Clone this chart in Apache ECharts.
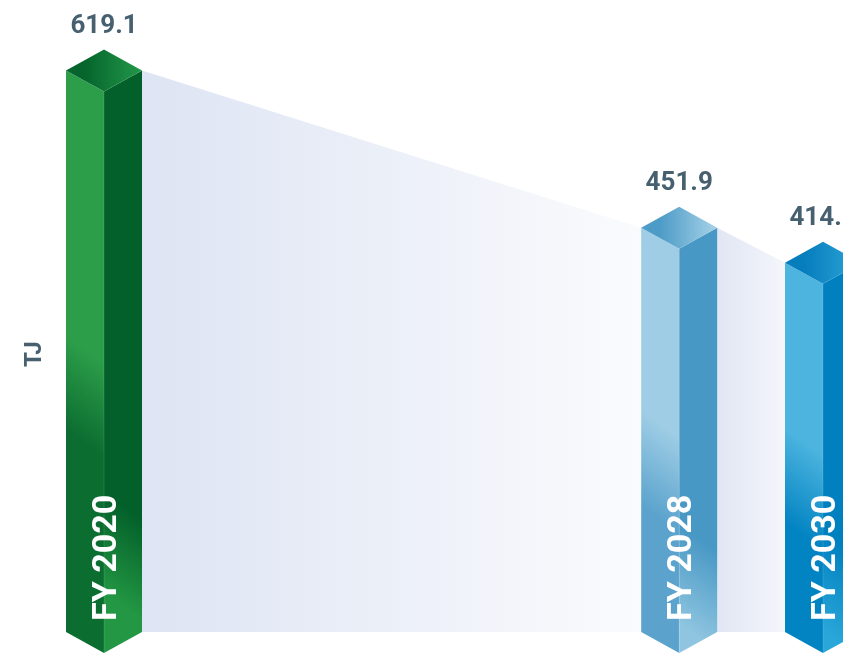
<!DOCTYPE html>
<html>
<head>
<meta charset="utf-8">
<script src="https://cdn.jsdelivr.net/npm/echarts@6/dist/echarts.min.js"></script>
<style>
  html, body { margin: 0; padding: 0; background: #ffffff; }
  #chart { width: 843px; height: 653px; }
</style>
</head>
<body>
<div id="chart"></div>
<script>
// Energy use, TJ
const years = [2020, 2028, 2030];
const categories = ['FY 2020', 'FY 2028', 'FY 2030'];
const values = [619.1, 451.9, 414.8];

// Face colours per bar: [top-left, top-right, left face light, left face dark, right face dark, right face light]
const palettes = [
  ['#05652c', '#23984a', '#2c9e49', '#0c6d31', '#03602a', '#239743'],
  ['#4d9cc7', '#a7d2e8', '#9ecde5', '#5ba3cd', '#4898c5', '#8fc5e0'],
  ['#067dbd', '#2ea6d8', '#4cb4df', '#0384c2', '#0080bf', '#2aa7d9']
];

const HALF_W = 38;   // half width of a prism, px
const DEPTH = 21;    // vertical offset of the diamond / chevron, px
const BASE_LIFT = 21;
const LABEL_COLOR = '#46606f';
const FONT = 'Roboto, "Liberation Sans", sans-serif';

const chart = echarts.init(document.getElementById('chart'), null, { renderer: 'canvas' });

function grad(x0, y0, x1, y1, c0, c1, s0, s1) {
  return new echarts.graphic.LinearGradient(x0, y0, x1, y1, [
    { offset: 0, color: c0 },
    { offset: s0, color: c0 },
    { offset: s1, color: c1 },
    { offset: 1, color: c1 }
  ], true);
}

// Shaded band linking the top of one prism to the next
const ribbonData = [];
for (let i = 0; i < years.length - 1; i++) {
  ribbonData.push([years[i], values[i], years[i + 1], values[i + 1]]);
}
const ribbonColors = [['#dde4f3', '#fafbfd'], ['#e1e6f3', '#f4f6fb']];

function renderRibbon(params, api) {
  const a = api.coord([api.value(0), api.value(1)]);
  const b = api.coord([api.value(2), api.value(3)]);
  const base = api.coord([api.value(0), 0])[1] - BASE_LIFT;
  const x0 = a[0] + HALF_W, x1 = b[0] - HALF_W;
  const cols = ribbonColors[params.dataIndex];
  return {
    type: 'polygon',
    shape: { points: [[x0, a[1]], [x1, b[1]], [x1, base], [x0, base]] },
    style: {
      fill: new echarts.graphic.LinearGradient(x0, 0, x1, 0, [
        { offset: 0, color: cols[0] },
        { offset: 1, color: cols[1] }
      ], true)
    }
  };
}

function renderPrism(params, api) {
  const i = params.dataIndex;
  const p = palettes[i];
  const c = api.coord([api.value(0), api.value(1)]);
  const cx = c[0], y = c[1];
  const base = api.coord([api.value(0), 0])[1] - BASE_LIFT;
  const h = base - y;
  const L = cx - HALF_W, R = cx + HALF_W;
  return {
    type: 'group',
    children: [
      {
        type: 'polygon',
        shape: { points: [[L, y], [cx, y + DEPTH], [cx, base + DEPTH], [L, base]] },
        style: { fill: grad(cx, y + h * 0.52, L - DEPTH, y + h * 0.52 + HALF_W * 2.2, p[2], p[3], 0.0, 0.75) }
      },
      {
        type: 'polygon',
        shape: { points: [[cx, y + DEPTH], [R, y], [R, base], [cx, base + DEPTH]] },
        style: { fill: grad(R, y + h * 0.8, cx - DEPTH, y + h * 0.8 + HALF_W * 2.2, p[4], p[5], 0.0, 0.8) }
      },
      {
        type: 'line',
        shape: { x1: cx, y1: y + DEPTH, x2: cx, y2: base + DEPTH },
        style: { stroke: 'rgba(255,255,255,0.12)', lineWidth: 1 }
      },
      {
        type: 'polygon',
        shape: { points: [[cx, y - DEPTH], [R, y], [cx, y + DEPTH], [L, y]] },
        style: { fill: grad(L, 0, R, 0, p[0], p[1], 0.25, 1) }
      },
      {
        type: 'text',
        x: cx,
        y: y - 44,
        style: {
          text: api.value(1).toFixed(1),
          fill: LABEL_COLOR,
          font: 'bold 26px ' + FONT,
          align: 'center',
          verticalAlign: 'middle'
        }
      },
      {
        type: 'text',
        x: cx + 3.5,
        y: base - 11,
        rotation: Math.PI / 2,
        style: {
          text: categories[i],
          fill: '#ffffff',
          font: 'bold 34px ' + FONT,
          align: 'left',
          verticalAlign: 'middle'
        }
      }
    ]
  };
}

chart.setOption({
  animation: false,
  backgroundColor: '#ffffff',
  grid: { left: 32.1, right: 20, top: 41.4, bottom: 0, containLabel: false },
  xAxis: {
    type: 'value',
    min: 2019,
    max: 2030,
    show: false
  },
  yAxis: {
    type: 'value',
    min: 0,
    max: 650,
    name: 'TJ',
    nameLocation: 'middle',
    nameGap: -15,
    nameTextStyle: {
      color: LABEL_COLOR, fontSize: 24, fontWeight: 'bold', fontFamily: FONT,
      padding: [0, 14, 0, 0]
    },
    axisLine: { show: false },
    axisTick: { show: false },
    axisLabel: { show: false },
    splitLine: { show: false }
  },
  series: [
    {
      type: 'custom',
      name: 'band',
      z: 1,
      renderItem: renderRibbon,
      encode: { x: [0, 2], y: [1, 3] },
      data: ribbonData,
      silent: true
    },
    {
      type: 'custom',
      name: 'TJ',
      z: 2,
      renderItem: renderPrism,
      encode: { x: 0, y: 1 },
      data: years.map((yr, i) => [yr, values[i]])
    }
  ]
});
</script>
</body>
</html>
